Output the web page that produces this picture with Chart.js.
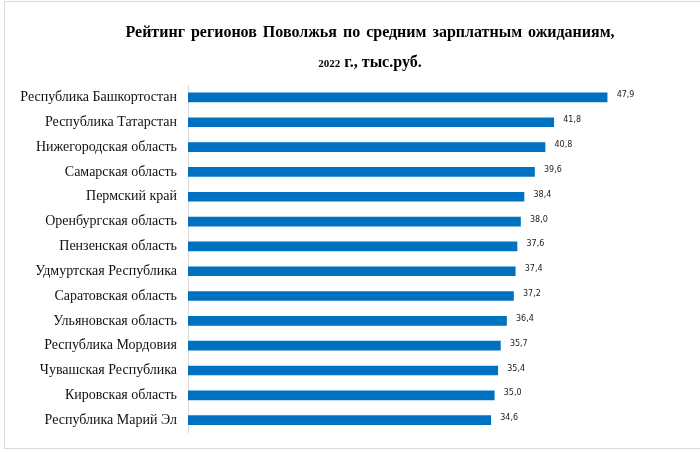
<!DOCTYPE html>
<html>
<head>
<meta charset="utf-8">
<script src="https://cdn.jsdelivr.net/npm/chart.js@4"></script>
<style>
  html, body { margin: 0; padding: 0; background: #fff; overflow: hidden; }
  #wrap { position: relative; width: 700px; height: 452px; }
  #frame { position: absolute; left: 4px; top: 1px; width: 700px; height: 448px; border: 1px solid #d9d9d9; box-sizing: border-box; }
  canvas { position: absolute; left: 0; top: 0; }
</style>
</head>
<body>
<div id="wrap">
  <div id="frame"></div>
  <canvas id="myBarChart" width="700" height="452"></canvas>
</div>
<script>
// Regions of Volga district and expected salary, thousand rub.
var regions = [
  'Республика Башкортостан',
  'Республика Татарстан',
  'Нижегородская область',
  'Самарская область',
  'Пермский край',
  'Оренбургская область',
  'Пензенская область',
  'Удмуртская Республика',
  'Саратовская область',
  'Ульяновская область',
  'Республика Мордовия',
  'Чувашская Республика',
  'Кировская область',
  'Республика Марий Эл'
];
var salaries = [47.9, 41.8, 40.8, 39.6, 38.4, 38.0, 37.6, 37.4, 37.2, 36.4, 35.7, 35.4, 35.0, 34.6];

var titleLine1 = 'Рейтинг регионов Поволжья по средним зарплатным ожиданиям,';
var titleYear = '2022';
var titleRest = ' г., тыс.руб.';

// title drawn by hand (second line has mixed font sizes)
var titlePlugin = {
  id: 'titlePlugin',
  afterDraw: function(chart) {
    var c = chart.ctx;
    var cx = 370;
    c.save();
    c.fillStyle = '#000';
    c.textBaseline = 'alphabetic';
    c.textAlign = 'center';
    c.font = 'bold 16px "Liberation Serif"';
    c.wordSpacing = '2px';
    c.fillText(titleLine1, cx, 37);
    c.wordSpacing = '0px';

    c.textAlign = 'left';
    c.font = 'bold 11px "Liberation Serif"';
    var w1 = c.measureText(titleYear).width;
    c.font = 'bold 16px "Liberation Serif"';
    var w2 = c.measureText(titleRest).width;
    var x = cx - (w1 + w2) / 2;
    c.font = 'bold 11px "Liberation Serif"';
    c.fillText(titleYear, x, 67);
    c.font = 'bold 16px "Liberation Serif"';
    c.fillText(titleRest, x + w1, 67);
    c.restore();
  }
};

// value labels at the end of bars, with comma as decimal sign
var valuePlugin = {
  id: 'valuePlugin',
  afterDatasetsDraw: function(chart) {
    var c = chart.ctx;
    var meta = chart.getDatasetMeta(0);
    c.save();
    c.fillStyle = '#1a1a1a';
    c.font = '8px "DejaVu Sans"';
    c.textAlign = 'left';
    c.textBaseline = 'middle';
    meta.data.forEach(function(bar, i) {
      var txt = salaries[i].toFixed(1).replace('.', ',');
      c.fillText(txt, bar.x + 9.5, bar.y - 2);
    });
    c.restore();
  }
};

var ctx = document.getElementById('myBarChart').getContext('2d');
var chart = new Chart(ctx, {
  type: 'bar',
  data: {
    labels: regions,
    datasets: [{
      data: salaries,
      backgroundColor: '#0070c0',
      borderWidth: 0,
      barThickness: 9
    }]
  },
  options: {
    indexAxis: 'y',
    responsive: false,
    animation: false,
    layout: {
      padding: { top: 85, bottom: 18, left: 0, right: 74.5 }
    },
    plugins: {
      legend: { display: false },
      tooltip: { enabled: false }
    },
    scales: {
      x: {
        display: false,
        min: 0,
        max: 50
      },
      y: {
        afterFit: function(scale) { scale.width = 188; },
        grid: { display: false, drawTicks: false },
        border: { display: true, color: '#d9d9d9', width: 1 },
        ticks: {
          padding: 11,
          color: '#111',
          font: { family: '"Liberation Serif"', size: 14 }
        }
      }
    }
  },
  plugins: [titlePlugin, valuePlugin]
});
</script>
</body>
</html>
